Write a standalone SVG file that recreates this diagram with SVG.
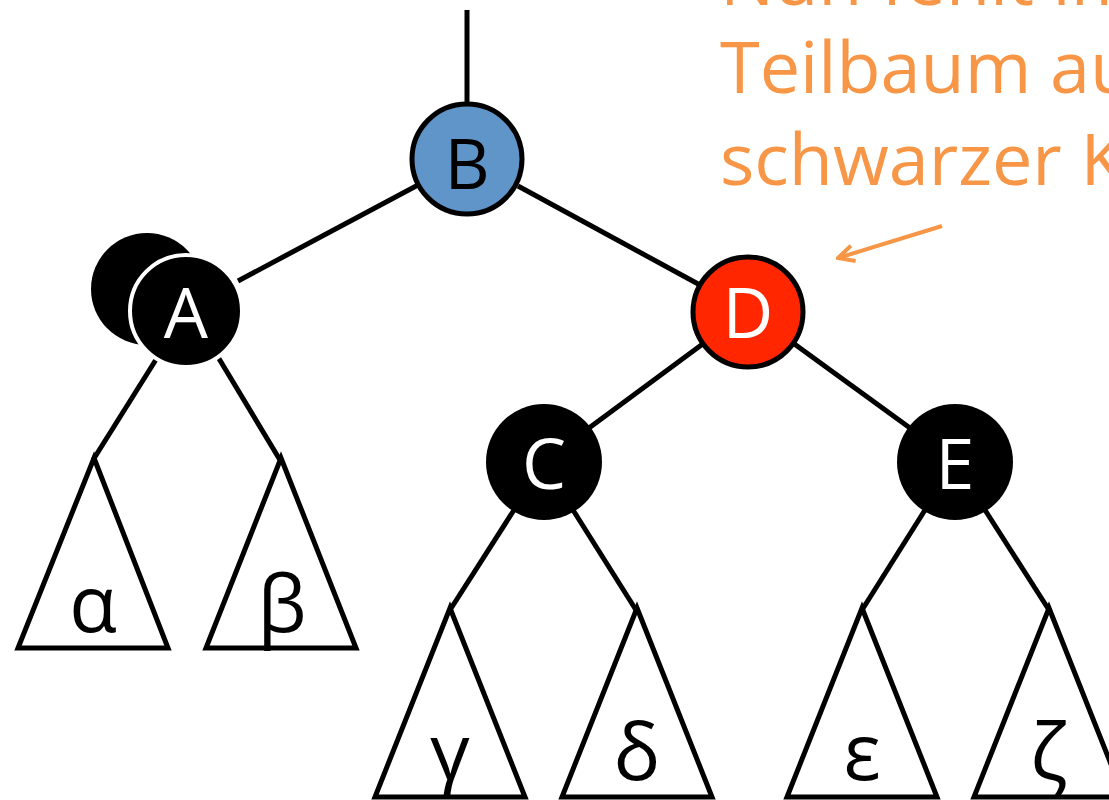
<svg xmlns="http://www.w3.org/2000/svg" width="1109" height="800" viewBox="0 0 1109 800">
<defs>
<style>
.e{stroke:#000;stroke-width:5;fill:none;stroke-linecap:butt}
.t{stroke:#000;stroke-width:5;fill:#fff;stroke-linejoin:miter}
.lbl{font-family:"Open Sans","Noto Sans",sans-serif;font-size:70px;text-anchor:middle}
.g{font-family:"Open Sans","Noto Sans",sans-serif;font-size:78px;text-anchor:middle;fill:#000}
.note{font-family:"Open Sans","Noto Sans",sans-serif;font-size:72px;fill:#F79646}
</style>
<marker id="ah" viewBox="0 0 20 20" refX="18" refY="10" markerWidth="20" markerHeight="20" markerUnits="userSpaceOnUse" orient="auto">
<path d="M2,2 L18,10 L2,18" fill="none" stroke="#F79646" stroke-width="4"/>
</marker>
</defs>
<rect width="1109" height="800" fill="#fff"/>
<g id="connectors">
<line class="e" x1="467" y1="10" x2="467" y2="104"/>
<line class="e" x1="418" y1="185" x2="238" y2="281"/>
<line class="e" x1="518" y1="186" x2="700" y2="285"/>
<line class="e" x1="157" y1="358" x2="93" y2="460"/>
<line class="e" x1="218" y1="357" x2="280" y2="460"/>
<line class="e" x1="704" y1="343" x2="589" y2="428"/>
<line class="e" x1="793" y1="343" x2="910" y2="428"/>
<line class="e" x1="514" y1="510" x2="450" y2="610"/>
<line class="e" x1="573" y1="510" x2="636" y2="610"/>
<line class="e" x1="925" y1="510" x2="862" y2="610"/>
<line class="e" x1="985" y1="510" x2="1049" y2="610"/>
<line x1="942" y1="226" x2="838" y2="258" stroke="#F79646" stroke-width="4" marker-end="url(#ah)"/>
</g>
<g id="note">
<text class="note" x="720" y="5">Nun fehlt im</text>
<text class="note" x="720" y="93">Teilbaum au</text>
<text class="note" x="720" y="185">schwarzer K</text>
</g>
<g id="node-B">
<circle cx="467" cy="159" r="55" fill="#5F95C8" stroke="#000" stroke-width="5"/>
<text class="lbl" x="467" y="189" fill="#000">B</text>
</g>
<g id="node-A">
<circle cx="147" cy="289" r="56" fill="#000"/>
<circle cx="186" cy="311" r="56" fill="#000" stroke="#fff" stroke-width="4"/>
<text class="lbl" x="186" y="338" fill="#fff">A</text>
</g>
<g id="node-D">
<circle cx="748" cy="312" r="55" fill="#FF2600" stroke="#000" stroke-width="5"/>
<text class="lbl" x="748" y="338" fill="#fff">D</text>
</g>
<g id="node-C">
<circle cx="544" cy="462" r="58" fill="#000"/>
<text class="lbl" x="544" y="489" fill="#fff">C</text>
</g>
<g id="node-E">
<circle cx="955" cy="462" r="58" fill="#000"/>
<text class="lbl" x="955" y="489" fill="#fff">E</text>
</g>
<g id="tree-alpha">
<polygon class="t" points="94,458 168,648 18,648"/>
<text class="g" x="93" y="632">α</text>
</g>
<g id="tree-beta">
<polygon class="t" points="281,458 356,648 206,648"/>
<text class="g" x="282" y="632">β</text>
</g>
<g id="tree-gamma">
<polygon class="t" points="450,608 525,797 375,797"/>
<text class="g" x="450" y="780">γ</text>
</g>
<g id="tree-delta">
<polygon class="t" points="637,608 712,797 562,797"/>
<text class="g" x="637" y="780">δ</text>
</g>
<g id="tree-epsilon">
<polygon class="t" points="862,608 937,797 787,797"/>
<text class="g" x="862" y="780">ε</text>
</g>
<g id="tree-zeta">
<polygon class="t" points="1049,608 1124,797 974,797"/>
<text class="g" x="1049" y="780">ζ</text>
</g>
</svg>
